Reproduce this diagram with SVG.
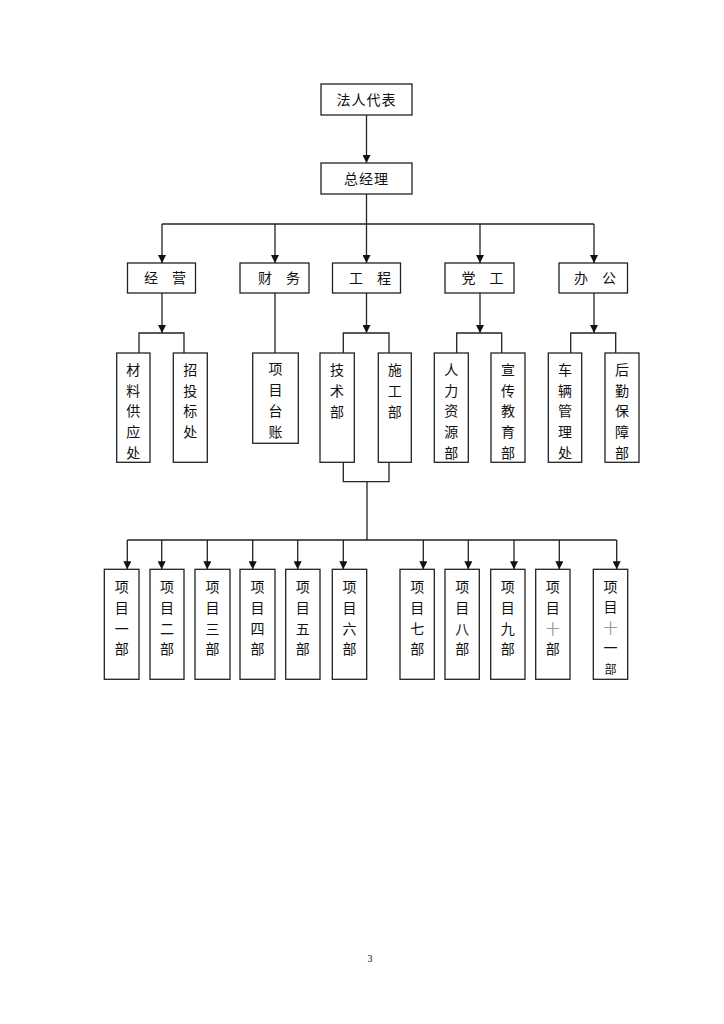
<svg xmlns="http://www.w3.org/2000/svg" width="724" height="1024" viewBox="0 0 724 1024">
<style>
.box{fill:#fff;stroke:#222;stroke-width:1.3}
.ln{fill:none;stroke:#222;stroke-width:1.3}
.t{font-family:"Noto Sans CJK SC","Noto Sans",sans-serif;font-size:14px;fill:#111;text-anchor:middle}
.g{fill:#999}
.pg{font-family:"Liberation Serif",serif;font-size:10px;fill:#111;text-anchor:middle}
</style>
<defs>
<marker id="ah" viewBox="0 0 8 8" refX="8" refY="4" markerWidth="8" markerHeight="8" markerUnits="userSpaceOnUse" orient="auto">
<path d="M0,0 L8,4 L0,8 z" fill="#111"/>
</marker>
</defs>
<rect width="724" height="1024" fill="#fff"/>
<g id="connectors">
<line class="ln" x1="366.5" y1="115" x2="366.5" y2="163" marker-end="url(#ah)"/>
<line class="ln" x1="366.5" y1="194" x2="366.5" y2="224"/>
<line class="ln" x1="162" y1="224" x2="594" y2="224"/>
<line class="ln" x1="162" y1="224" x2="162" y2="263" marker-end="url(#ah)"/>
<line class="ln" x1="275" y1="224" x2="275" y2="263" marker-end="url(#ah)"/>
<line class="ln" x1="366.5" y1="224" x2="366.5" y2="263" marker-end="url(#ah)"/>
<line class="ln" x1="480" y1="224" x2="480" y2="263" marker-end="url(#ah)"/>
<line class="ln" x1="594" y1="224" x2="594" y2="263" marker-end="url(#ah)"/>
<line class="ln" x1="162" y1="293" x2="162" y2="333" marker-end="url(#ah)"/>
<path class="ln" d="M139,353 V333 H184 V353"/>
<line class="ln" x1="275" y1="293" x2="275" y2="353"/>
<line class="ln" x1="366.5" y1="293" x2="366.5" y2="333" marker-end="url(#ah)"/>
<path class="ln" d="M343.3,353 V333 H389 V353"/>
<line class="ln" x1="480" y1="293" x2="480" y2="333" marker-end="url(#ah)"/>
<path class="ln" d="M456.7,353 V333 H501.7 V353"/>
<line class="ln" x1="594" y1="293" x2="594" y2="333" marker-end="url(#ah)"/>
<path class="ln" d="M570.7,353 V333 H615.7 V353"/>
<path class="ln" d="M343.3,462.3 V481.7 H389 V462.3"/>
<line class="ln" x1="367" y1="481.7" x2="367" y2="540"/>
<line class="ln" x1="127.3" y1="540" x2="616.7" y2="540"/>
<line class="ln" x1="127.3" y1="540" x2="127.3" y2="569.3" marker-end="url(#ah)"/>
<line class="ln" x1="161.7" y1="540" x2="161.7" y2="569.3" marker-end="url(#ah)"/>
<line class="ln" x1="207.3" y1="540" x2="207.3" y2="569.3" marker-end="url(#ah)"/>
<line class="ln" x1="252.7" y1="540" x2="252.7" y2="569.3" marker-end="url(#ah)"/>
<line class="ln" x1="297.7" y1="540" x2="297.7" y2="569.3" marker-end="url(#ah)"/>
<line class="ln" x1="343.3" y1="540" x2="343.3" y2="569.3" marker-end="url(#ah)"/>
<line class="ln" x1="423.3" y1="540" x2="423.3" y2="569.3" marker-end="url(#ah)"/>
<line class="ln" x1="468.3" y1="540" x2="468.3" y2="569.3" marker-end="url(#ah)"/>
<line class="ln" x1="514" y1="540" x2="514" y2="569.3" marker-end="url(#ah)"/>
<line class="ln" x1="559.3" y1="540" x2="559.3" y2="569.3" marker-end="url(#ah)"/>
<line class="ln" x1="616.7" y1="540" x2="616.7" y2="569.3" marker-end="url(#ah)"/>
</g>
<g id="n-faren"><rect class="box" x="321" y="84" width="91" height="31"/><text class="t" x="366.5" y="104.5" letter-spacing="1">法人代表</text></g>
<g id="n-zongjingli"><rect class="box" x="321" y="163" width="91" height="31"/><text class="t" x="366.5" y="183.5" letter-spacing="1">总经理</text></g>
<g id="n-jingying"><rect class="box" x="127.5" y="263" width="68" height="30"/><text class="t" x="165" y="283">经　营</text></g>
<g id="n-caiwu"><rect class="box" x="240" y="263" width="69" height="30"/><text class="t" x="279" y="283">财　务</text></g>
<g id="n-gongcheng"><rect class="box" x="332.5" y="263" width="68" height="30"/><text class="t" x="370" y="283">工　程</text></g>
<g id="n-danggong"><rect class="box" x="445" y="263" width="69" height="30"/><text class="t" x="482.5" y="283">党　工</text></g>
<g id="n-bangong"><rect class="box" x="559" y="263" width="68.5" height="30"/><text class="t" x="595" y="283">办　公</text></g>

<g id="n-cailiao"><rect class="box" x="116.7" y="353" width="33.3" height="109.3"/><text class="t" y="375"><tspan x="133.3">材</tspan><tspan x="133.3" dy="20.7">料</tspan><tspan x="133.3" dy="20.7">供</tspan><tspan x="133.3" dy="20.7">应</tspan><tspan x="133.3" dy="20.7">处</tspan></text></g>
<g id="n-zhaotoubiao"><rect class="box" x="173.3" y="353" width="34" height="109.3"/><text class="t" y="375"><tspan x="190.3">招</tspan><tspan x="190.3" dy="20.7">投</tspan><tspan x="190.3" dy="20.7">标</tspan><tspan x="190.3" dy="20.7">处</tspan></text></g>
<g id="n-xiangmutaizhang"><rect class="box" x="252.7" y="353" width="45.6" height="90.3"/><text class="t" y="374"><tspan x="275.5">项</tspan><tspan x="275.5" dy="21">目</tspan><tspan x="275.5" dy="21">台</tspan><tspan x="275.5" dy="21">账</tspan></text></g>
<g id="n-jishu"><rect class="box" x="320" y="353" width="34.3" height="109.3"/><text class="t" y="375"><tspan x="337">技</tspan><tspan x="337" dy="21">术</tspan><tspan x="337" dy="21">部</tspan></text></g>
<g id="n-shigong"><rect class="box" x="378.3" y="353" width="33" height="109.3"/><text class="t" y="375"><tspan x="394.8">施</tspan><tspan x="394.8" dy="21">工</tspan><tspan x="394.8" dy="21">部</tspan></text></g>
<g id="n-renli"><rect class="box" x="434.3" y="353" width="34" height="109.3"/><text class="t" y="375"><tspan x="451.3">人</tspan><tspan x="451.3" dy="20.7">力</tspan><tspan x="451.3" dy="20.7">资</tspan><tspan x="451.3" dy="20.7">源</tspan><tspan x="451.3" dy="20.7">部</tspan></text></g>
<g id="n-xuanchuan"><rect class="box" x="491" y="353" width="34" height="109.3"/><text class="t" y="375"><tspan x="508">宣</tspan><tspan x="508" dy="20.7">传</tspan><tspan x="508" dy="20.7">教</tspan><tspan x="508" dy="20.7">育</tspan><tspan x="508" dy="20.7">部</tspan></text></g>
<g id="n-cheliang"><rect class="box" x="548.3" y="353" width="33.4" height="109.3"/><text class="t" y="375"><tspan x="565">车</tspan><tspan x="565" dy="20.7">辆</tspan><tspan x="565" dy="20.7">管</tspan><tspan x="565" dy="20.7">理</tspan><tspan x="565" dy="20.7">处</tspan></text></g>
<g id="n-houqin"><rect class="box" x="605" y="353" width="34" height="109.3"/><text class="t" y="375"><tspan x="622">后</tspan><tspan x="622" dy="20.7">勤</tspan><tspan x="622" dy="20.7">保</tspan><tspan x="622" dy="20.7">障</tspan><tspan x="622" dy="20.7">部</tspan></text></g>

<g id="n-p1"><rect class="box" x="104.3" y="569.3" width="34.7" height="110"/><text class="t" y="592"><tspan x="121.7">项</tspan><tspan x="121.7" dy="20.8">目</tspan><tspan x="121.7" dy="20.8">一</tspan><tspan x="121.7" dy="20.8">部</tspan></text></g>
<g id="n-p2"><rect class="box" x="150" y="569.3" width="34" height="110"/><text class="t" y="592"><tspan x="167">项</tspan><tspan x="167" dy="20.8">目</tspan><tspan x="167" dy="20.8">二</tspan><tspan x="167" dy="20.8">部</tspan></text></g>
<g id="n-p3"><rect class="box" x="195" y="569.3" width="35" height="110"/><text class="t" y="592"><tspan x="212.5">项</tspan><tspan x="212.5" dy="20.8">目</tspan><tspan x="212.5" dy="20.8">三</tspan><tspan x="212.5" dy="20.8">部</tspan></text></g>
<g id="n-p4"><rect class="box" x="240" y="569.3" width="35" height="110"/><text class="t" y="592"><tspan x="257.5">项</tspan><tspan x="257.5" dy="20.8">目</tspan><tspan x="257.5" dy="20.8">四</tspan><tspan x="257.5" dy="20.8">部</tspan></text></g>
<g id="n-p5"><rect class="box" x="285.7" y="569.3" width="34.3" height="110"/><text class="t" y="592"><tspan x="302.8">项</tspan><tspan x="302.8" dy="20.8">目</tspan><tspan x="302.8" dy="20.8">五</tspan><tspan x="302.8" dy="20.8">部</tspan></text></g>
<g id="n-p6"><rect class="box" x="332.3" y="569.3" width="34.4" height="110"/><text class="t" y="592"><tspan x="349.5">项</tspan><tspan x="349.5" dy="20.8">目</tspan><tspan x="349.5" dy="20.8">六</tspan><tspan x="349.5" dy="20.8">部</tspan></text></g>
<g id="n-p7"><rect class="box" x="400" y="569.3" width="34.3" height="110"/><text class="t" y="592"><tspan x="417.2">项</tspan><tspan x="417.2" dy="20.8">目</tspan><tspan x="417.2" dy="20.8">七</tspan><tspan x="417.2" dy="20.8">部</tspan></text></g>
<g id="n-p8"><rect class="box" x="445" y="569.3" width="34.3" height="110"/><text class="t" y="592"><tspan x="462.2">项</tspan><tspan x="462.2" dy="20.8">目</tspan><tspan x="462.2" dy="20.8">八</tspan><tspan x="462.2" dy="20.8">部</tspan></text></g>
<g id="n-p9"><rect class="box" x="490.7" y="569.3" width="34.3" height="110"/><text class="t" y="592"><tspan x="507.8">项</tspan><tspan x="507.8" dy="20.8">目</tspan><tspan x="507.8" dy="20.8">九</tspan><tspan x="507.8" dy="20.8">部</tspan></text></g>
<g id="n-p10"><rect class="box" x="535.7" y="569.3" width="34.3" height="110"/><text class="t" y="592"><tspan x="552.8">项</tspan><tspan x="552.8" dy="20.8">目</tspan><tspan x="552.8" dy="20.8" class="g">十</tspan><tspan x="552.8" dy="20.8">部</tspan></text></g>
<g id="n-p11"><rect class="box" x="593.3" y="569.3" width="34.4" height="110"/><text class="t" y="592"><tspan x="610.5">项</tspan><tspan x="610.5" dy="20.3">目</tspan><tspan x="610.5" dy="20.3" class="g">十</tspan><tspan x="610.5" dy="20.3">一</tspan><tspan x="610.5" dy="21.5" font-size="12">部</tspan></text></g>

<text class="pg" x="370" y="962">3</text>
</svg>
